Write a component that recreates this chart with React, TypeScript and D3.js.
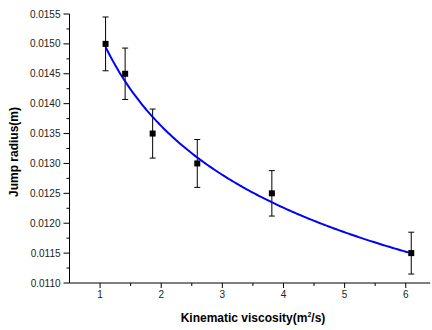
import React from "react";
import * as d3 from "d3";

const viscosity = [1.09, 1.41, 1.86, 2.59, 3.81, 6.09];
const jumpRadius = [0.0150, 0.0145, 0.0135, 0.0130, 0.0125, 0.0115];
const radiusError = [0.00045, 0.00043, 0.00041, 0.0004, 0.00038, 0.00035];
const xTicks = [1, 2, 3, 4, 5, 6];
const yTicks = [0.011, 0.0115, 0.012, 0.0125, 0.013, 0.0135, 0.014, 0.0145, 0.015, 0.0155];
// power-law fit y = a * x^b
const fitA = 0.015147;
const fitB = -0.1526;

const W = 432, H = 330;
const x = d3.scaleLinear().domain([0.5, 6.4]).range([69.5, 430.2]);
const y = d3.scaleLinear().domain([0.011, 0.0155]).range([283, 14]);

export default function App() {
  const [x0, x1] = [viscosity[0], viscosity[viscosity.length - 1]];
  const fitPts: [number, number][] = d3.range(0, 201).map((i) => {
    const xv = x0 + ((x1 - x0) * i) / 200;
    return [xv, fitA * Math.pow(xv, fitB)];
  });
  const line = d3.line<[number, number]>().x((d) => x(d[0])).y((d) => y(d[1]));
  const xMinor = xTicks.map((t) => t + 0.5).filter((t) => t < 6.4);
  const yMinor = yTicks.slice(0, -1).map((t) => t + 0.00025);
  const font = "'Liberation Sans', Arial, sans-serif";
  const axisY = y(0.011);
  const axisX = x(0.5);
  return (
    <svg width={W} height={H} style={{ position: "absolute", left: 0, top: 0, background: "#fff" }} fontFamily={font}>
      {/* axes */}
      <line x1={axisX} x2={axisX} y1={y(0.0155)} y2={axisY} stroke="#000" strokeWidth={1} />
      <line x1={axisX} x2={x(6.4)} y1={axisY} y2={axisY} stroke="#000" strokeWidth={1} />
      {yTicks.map((t) => (
        <g key={"y" + t}>
          <line x1={axisX - 6} x2={axisX} y1={y(t)} y2={y(t)} stroke="#000" />
          <text x={axisX - 9} y={y(t) + 3.5} fontSize={10} textAnchor="end" fill="#222">
            {t.toFixed(4)}
          </text>
        </g>
      ))}
      {yMinor.map((t) => (
        <line key={"ym" + t} x1={axisX - 3} x2={axisX} y1={y(t)} y2={y(t)} stroke="#000" />
      ))}
      {xTicks.map((t) => (
        <g key={"x" + t}>
          <line x1={x(t)} x2={x(t)} y1={axisY} y2={axisY + 5} stroke="#000" />
          <text x={x(t)} y={297.5} fontSize={10} textAnchor="middle" fill="#222">
            {t}
          </text>
        </g>
      ))}
      {xMinor.map((t) => (
        <line key={"xm" + t} x1={x(t)} x2={x(t)} y1={axisY} y2={axisY + 3} stroke="#000" />
      ))}
      {/* labels */}
      <text x={253} y={322} fontSize={12} fontWeight="bold" textAnchor="middle" fill="#000">
        Kinematic viscosity(m<tspan dy={-5} fontSize={7}>2</tspan>
        <tspan dy={5}>/s)</tspan>
      </text>
      <text
        transform={`translate(18,152) rotate(-90)`}
        fontSize={12}
        fontWeight="bold"
        textAnchor="middle"
        fill="#000"
      >
        Jump radius(m)
      </text>
      {/* error bars */}
      {viscosity.map((v, i) => {
        const cx = x(v);
        const top = y(jumpRadius[i] + radiusError[i]);
        const bot = y(jumpRadius[i] - radiusError[i]);
        return (
          <g key={"e" + i} stroke="#000" strokeWidth={1}>
            <line x1={cx} x2={cx} y1={top} y2={bot} />
            <line x1={cx - 3} x2={cx + 3} y1={top} y2={top} />
            <line x1={cx - 3} x2={cx + 3} y1={bot} y2={bot} />
          </g>
        );
      })}
      {/* fit curve */}
      <path d={line(fitPts) || ""} fill="none" stroke="#0000ff" strokeWidth={2} />
      {/* markers */}
      {viscosity.map((v, i) => (
        <rect key={"m" + i} x={x(v) - 3} y={y(jumpRadius[i]) - 3} width={6} height={6} fill="#000" />
      ))}
    </svg>
  );
}
